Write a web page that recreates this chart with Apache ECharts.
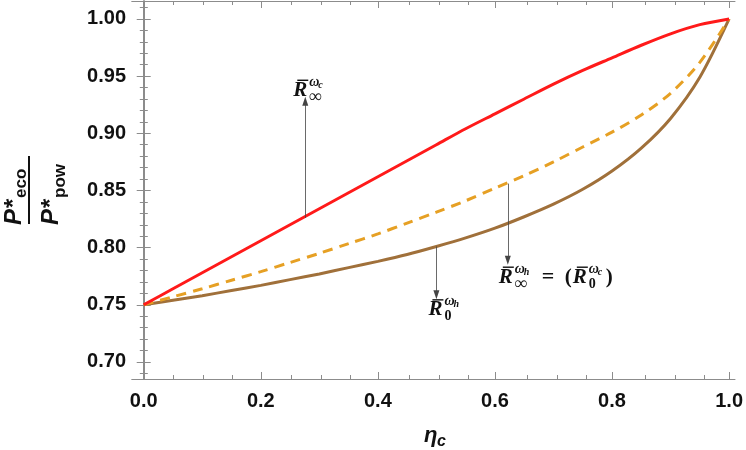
<!DOCTYPE html>
<html>
<head>
<meta charset="utf-8">
<title>P eco / P pow</title>
<script src="https://cdn.jsdelivr.net/npm/echarts@6.0.0/dist/echarts.min.js"></script>
<style>
  html, body { margin: 0; padding: 0; background: #fff; }
  #main { width: 746px; height: 450px; }
</style>
</head>
<body>
<div id="main"></div>
<script>
// eta_c sample points
var etaC = [0, 0.05, 0.10, 0.15, 0.20, 0.25, 0.30, 0.35, 0.40, 0.45, 0.50,
            0.55, 0.60, 0.65, 0.70, 0.75, 0.80, 0.85, 0.90, 0.95, 1.00];
// R_inf^{wc}  (red)
var rInfWc = [0.750, 0.764, 0.778, 0.792, 0.806, 0.820, 0.834, 0.848, 0.862, 0.876, 0.890,
              0.904, 0.917, 0.930, 0.943, 0.955, 0.966, 0.977, 0.987, 0.995, 1.000];
// R_inf^{wh} = R_0^{wc}  (dashed)
var rInfWh = [0.750, 0.757, 0.764, 0.7715, 0.779, 0.787, 0.795, 0.8035, 0.812, 0.8215, 0.831,
              0.841, 0.852, 0.863, 0.875, 0.888, 0.901, 0.916, 0.935, 0.962, 1.000];
// R_0^{wh}  (brown)
var r0Wh   = [0.750, 0.754, 0.758, 0.7625, 0.767, 0.772, 0.777, 0.7825, 0.788, 0.794, 0.801,
              0.8085, 0.817, 0.827, 0.838, 0.851, 0.867, 0.887, 0.913, 0.949, 1.000];

// ticks
var xMajor = [0, 0.2, 0.4, 0.6, 0.8, 1.0];
var xMinor = [0.05, 0.1, 0.15, 0.25, 0.3, 0.35, 0.45, 0.5, 0.55, 0.65, 0.7, 0.75, 0.85, 0.9, 0.95];
var yMajor = [0.70, 0.75, 0.80, 0.85, 0.90, 0.95, 1.00];
var yMinor = [0.69, 0.71, 0.72, 0.73, 0.74, 0.76, 0.77, 0.78, 0.79, 0.81, 0.82, 0.83, 0.84,
              0.86, 0.87, 0.88, 0.89, 0.91, 0.92, 0.93, 0.94, 0.96, 0.97, 0.98, 0.99, 1.01];

// annotation arrows [from, to]
var redArrow   = [[0.276, 0.826], [0.276, 0.928]];
var dashArrow  = [[0.622, 0.856], [0.622, 0.789]];
var brownArrow = [[0.500, 0.801], [0.500, 0.7587]];

var X_MIN = -0.02, X_MAX = 1.0017, Y_MIN = 0.6851, Y_MAX = 1.0157;

function pairs(ys) {
    return etaC.map(function (x, i) { return [x, ys[i]]; });
}

function arrow(a, color) {
    return {
        silent: true,
        symbol: ['none', 'triangle'],
        symbolSize: [6, 9],
        label: {show: false},
        lineStyle: {color: color, width: 0.8, type: 'solid'},
        data: [[{coord: a[0]}, {coord: a[1]}]]
    };
}

var frame = {color: '#8c8c8c', width: 1};

function xAx(pos, ticks, len, grid, labels) {
    return {
        type: 'value', gridIndex: grid, position: pos, min: X_MIN, max: X_MAX,
        axisLine: {show: true, lineStyle: frame},
        axisTick: {show: true, inside: true, length: len, customValues: ticks, lineStyle: frame},
        axisLabel: labels ? {
            customValues: ticks, margin: 12, color: '#111',
            fontFamily: 'Liberation Sans', fontWeight: 'bold', fontSize: 20,
            formatter: function (v) { return v.toFixed(1); }
        } : {show: false},
        splitLine: {show: false}
    };
}

function yAx(pos, ticks, len, grid, labels) {
    return {
        type: 'value', gridIndex: grid, position: pos, min: Y_MIN, max: Y_MAX,
        axisLine: {show: true, lineStyle: frame},
        axisTick: {show: true, inside: true, length: len, customValues: ticks, lineStyle: frame},
        axisLabel: labels ? {
            customValues: ticks, margin: 6, color: '#111',
            fontFamily: 'Liberation Sans', fontWeight: 'bold', fontSize: 20,
            formatter: function (v) { return v.toFixed(2); }
        } : {show: false},
        splitLine: {show: false}
    };
}

var gridBox = {left: 132, right: 11, top: 1, bottom: 71};

var myChart = echarts.init(document.getElementById('main'));

var option = {
    animation: false,
    grid: [
        Object.assign({}, gridBox),
        Object.assign({}, gridBox)
    ],
    xAxis: [
        xAx('bottom', xMajor, 7, 0, true),
        xAx('top', xMajor, 7, 0, false),
        xAx('bottom', xMinor, 4, 1, false),
        xAx('top', xMinor, 4, 1, false)
    ],
    yAxis: [
        yAx('left', yMajor, 7, 0, true),
        yAx('right', yMajor, 7, 0, false),
        yAx('left', yMinor, 4, 1, false),
        yAx('right', yMinor, 4, 1, false)
    ],
    series: [
        {
            name: 'R0wh', type: 'line', xAxisIndex: 0, yAxisIndex: 0,
            data: pairs(r0Wh), smooth: 0.3, showSymbol: false,
            lineStyle: {color: '#a0703a', width: 3},
            markLine: arrow(brownArrow, '#444')
        },
        {
            name: 'RinfWh', type: 'line', xAxisIndex: 0, yAxisIndex: 0,
            data: pairs(rInfWh), smooth: 0.3, showSymbol: false,
            lineStyle: {color: '#e6a024', width: 3, type: [10, 7]},
            markLine: arrow(dashArrow, '#444')
        },
        {
            name: 'RinfWc', type: 'line', xAxisIndex: 0, yAxisIndex: 0,
            data: pairs(rInfWc), smooth: 0.3, showSymbol: false,
            lineStyle: {color: '#ff1a1a', width: 3},
            markLine: arrow(redArrow, '#444')
        }
    ]
};
myChart.setOption(option);

// ---- math style labels ----
function txt(x, y, s, font) {
    return {
        type: 'text', x: x, y: y, silent: true,
        style: {text: s, font: font, fill: '#111', align: 'left', verticalAlign: 'middle'}
    };
}
var serifBI = function (n) { return 'bold italic ' + n + 'px "Liberation Serif"'; };
var serifB = function (n) { return 'bold ' + n + 'px "Liberation Serif"'; };

// R with bar, superscript omega_x and a subscript
function rTerm(x, y, supSub, sub) {
    return [
        txt(x, y, 'R', serifBI(21)),
        {type: 'line', silent: true, shape: {x1: x + 4, y1: y - 10, x2: x + 15, y2: y - 10},
         style: {stroke: '#111', lineWidth: 1.4}},
        txt(x + 16, y - 8, 'ω', serifBI(14)),
        txt(x + 25, y - 5, supSub, serifBI(10)),
        txt(x + 16, y + 7, sub, sub === '∞' ? serifB(18) : serifB(14))
    ];
}

var px = function (p) { return myChart.convertToPixel({xAxisIndex: 0, yAxisIndex: 0}, p); };
var tRed = px(redArrow[1]), tDash = px(dashArrow[1]), tBrown = px(brownArrow[1]);

var labels = [];
labels = labels.concat(rTerm(tRed[0] - 12, tRed[1] - 11, 'c', '∞'));
var bx = tDash[0] - 9, by = tDash[1] + 17;
labels = labels.concat(rTerm(bx, by, 'h', '∞'));
labels.push(txt(bx + 43, by, '=', serifB(22)));
labels.push(txt(bx + 66, by, '(', serifB(21)));
labels = labels.concat(rTerm(bx + 74, by, 'c', '0'));
labels.push(txt(bx + 107, by, ')', serifB(21)));
labels = labels.concat(rTerm(tBrown[0] - 8, tBrown[1] + 15, 'h', '0'));

// axis titles
var sansB = function (n) { return 'bold ' + n + 'px "Liberation Sans"'; };
var yTitle = {
    type: 'group', x: 29, y: 190, rotation: Math.PI / 2, silent: true,
    children: [
        txt(-35, -15, 'P*', 'italic ' + sansB(24)),
        txt(-8, -8, 'eco', sansB(17)),
        {type: 'line', shape: {x1: -34, y1: 0, x2: 34, y2: 0}, style: {stroke: '#111', lineWidth: 2}},
        txt(-35, 22, 'P*', 'italic ' + sansB(24)),
        txt(-8, 31, 'pow', sansB(17))
    ]
};
var xTitle = {
    type: 'group', silent: true,
    children: [
        txt(424, 436, 'η', 'italic ' + sansB(22)),
        txt(437, 442, 'c', 'italic ' + sansB(16))
    ]
};

myChart.setOption({graphic: labels.concat([yTitle, xTitle])});
</script>
</body>
</html>
